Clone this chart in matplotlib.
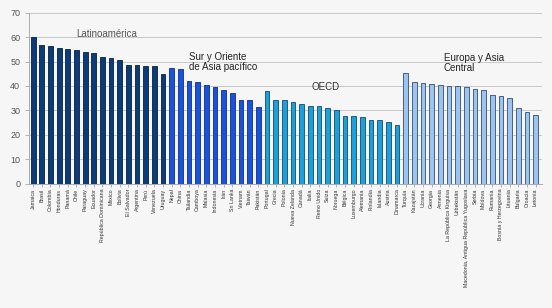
import numpy as np
import matplotlib
matplotlib.use("Agg")
import matplotlib.pyplot as plt

plt.rcParams['font.family'] = ['Liberation Sans', 'DejaVu Sans']

# datos por región
latam = ['Jamaica', 'Brasil', 'Colombia', 'Honduras', 'Panamá', 'Chile', 'Paraguay',
         'Ecuador', 'República Dominicana', 'México', 'Bolivia', 'El Salvador',
         'Argentina', 'Perú', 'Venezuela', 'Uruguay']
latam_vals = [60.0, 56.7, 56.4, 55.5, 55.1, 54.8, 54.1, 53.6, 51.9, 51.4, 50.6,
              48.6, 48.5, 48.1, 48.0, 45.1]

asia = ['Nepal', 'China', 'Tailandia', 'Camboya', 'Malasia', 'Indonesia', 'Irán',
        'Sri Lanka', 'Vietnam', 'Taiwán', 'Pakistán']
asia_vals = [47.3, 47.1, 42.2, 41.8, 40.6, 39.5, 38.4, 37.0, 34.4, 34.4, 31.3]

oecd = ['Portugal', 'Grecia', 'Polonia', 'Nueva Zelanda', 'Canadá', 'Italia',
        'Reino Unido', 'Suiza', 'Noruega', 'Bélgica', 'Luxemburgo', 'Alemania',
        'Finlandia', 'Islandia', 'Austria', 'Dinamarca']
oecd_vals = [38.1, 34.2, 34.2, 33.5, 32.7, 31.8, 31.8, 30.9, 30.1, 27.9, 27.9,
             27.1, 26.1, 26.1, 25.2, 23.9]

europa = ['Turquía', 'Kazajstán', 'Ucrania', 'Georgia', 'Armenia',
          'La República Kirguisa', 'Uzbekistán',
          'Macedonia, Antigua República Yugoslava', 'Serbia', 'Moldova', 'Rumania',
          'Bosnia y Herzegovina', 'Lituania', 'Bulgaria', 'Croacia', 'Letonia']
europa_vals = [45.2, 41.5, 41.3, 40.9, 40.2, 39.9, 39.9, 39.5, 38.9, 38.5, 36.5,
               35.8, 35.1, 31.1, 29.3, 28.0]

grupos = [
    (latam, latam_vals, '#0b3b78', '#06213f'),
    (asia, asia_vals, '#1a52dc', '#0d2f8a'),
    (oecd, oecd_vals, '#1f9fd9', '#0b4d73'),
    (europa, europa_vals, '#9cc4ee', '#2f4d72'),
]

fig = plt.figure(figsize=(5.52, 3.08), dpi=100)
fig.patch.set_facecolor('#f6f6f6')
ax = fig.add_axes([0.053, 0.4036, 0.929, 0.5552])
ax.set_facecolor('#f6f6f6')

nombres = []
i0 = 0
for paises, vals, color, borde in grupos:
    x = np.arange(i0, i0 + len(paises))
    ax.bar(x, vals, width=0.55, color=color, edgecolor=borde, linewidth=0.6, zorder=3)
    nombres += paises
    i0 += len(paises)

ax.set_ylim(0, 70)
ax.set_yticks(range(0, 71, 10))
ax.set_xlim(-0.45, len(nombres) - 0.25)
ax.set_xticks(np.arange(len(nombres)))
ax.set_xticklabels(nombres, rotation=90, fontsize=3.8, color='#333333')
ax.tick_params(axis='x', length=2, pad=1.5, color='#999999', width=0.5)
ax.tick_params(axis='y', labelsize=6.5, labelcolor='#555555', length=3,
               color='#999999', width=0.5)
ax.grid(axis='y', color='#c8c8c8', linewidth=0.7, zorder=0)
for s in ['top', 'right']:
    ax.spines[s].set_visible(False)
for s in ['left', 'bottom']:
    ax.spines[s].set_color('#aaaaaa')
    ax.spines[s].set_linewidth(0.7)

# etiquetas de región
ax.text(8.5, 61.4, 'Latinoamérica', fontsize=7, color='#555555', va='center', ha='center')
ax.text(18.0, 50.0, 'Sur y Oriente\nde Asia pacífico', fontsize=7, color='#222222',
        va='center', ha='left', linespacing=1.0)
ax.text(33.7, 39.6, 'OECD', fontsize=7, color='#333333', va='center', ha='center')
ax.text(47.4, 49.4, 'Europa y Asia\nCentral', fontsize=7, color='#222222',
        va='center', ha='left', linespacing=1.0)

fig.savefig('out.png', dpi=100, facecolor=fig.get_facecolor())
